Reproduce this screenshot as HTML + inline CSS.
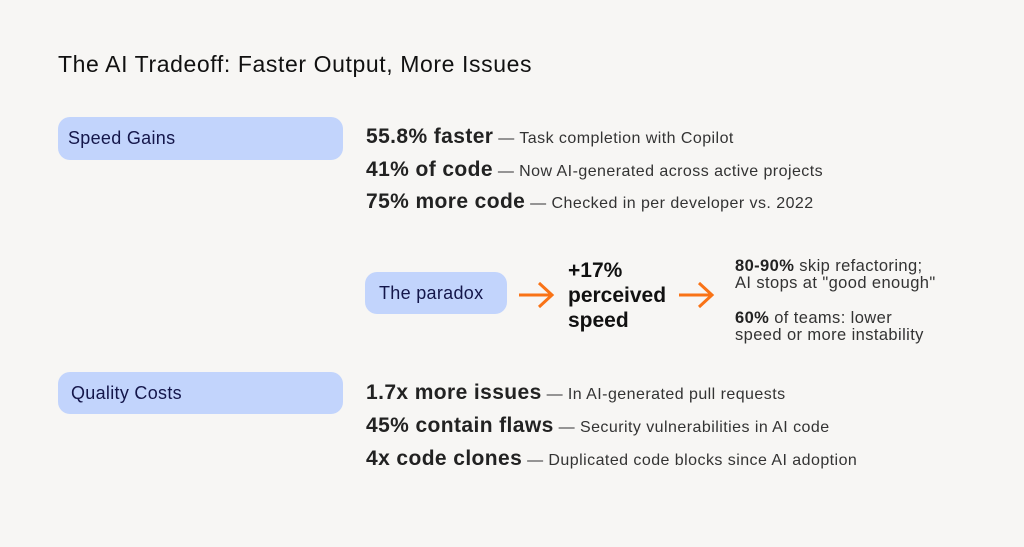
<!DOCTYPE html>
<html><head><meta charset="utf-8"><style>
body{margin:0;width:1024px;height:547px;background:#f7f6f4;font-family:"Liberation Sans",sans-serif;position:relative;overflow:hidden;color:#222}
.a{position:absolute;white-space:nowrap}
.pill{position:absolute;background:#c2d4fc;border-radius:12px;color:#14164a;font-size:18px;letter-spacing:0.3px;line-height:42px;box-sizing:border-box}
.ln{position:absolute;left:366px;white-space:nowrap;font-size:16px;letter-spacing:0.45px;color:#333;line-height:24px}
.ln b{font-size:21px;letter-spacing:0.4px;color:#222}
.sm{font-size:16.5px;letter-spacing:0.4px;color:#333;line-height:17px}
.sm b{color:#222}
</style></head><body>
<div class="a" style="left:58px;top:51px;font-size:23px;letter-spacing:0.6px;color:#111">The AI Tradeoff: Faster Output, More Issues</div>
<div class="pill" style="left:58px;top:117px;width:285px;height:43px;padding-left:10px">Speed Gains</div>
<div class="ln" style="top:125px"><b>55.8% faster</b> — Task completion with Copilot</div>
<div class="ln" style="top:158px"><b>41% of code</b> — Now AI-generated across active projects</div>
<div class="ln" style="top:190px"><b>75% more code</b> — Checked in per developer vs. 2022</div>
<div class="pill" style="left:365px;top:272px;width:142px;height:42px;padding-left:14px">The paradox</div>
<svg class="a" style="left:515px;top:280px" width="210" height="32">
<path d="M4 15H37M24 3L37 15L24 27" stroke="#f97316" stroke-width="3" fill="none"/>
<path d="M164 15H197M184 3L197 15L184 27" stroke="#f97316" stroke-width="3" fill="none"/>
</svg>
<div class="a" style="left:568px;top:258px;font-size:21px;font-weight:bold;line-height:25px;color:#111">+17%<br>perceived<br>speed</div>
<div class="a sm" style="left:735px;top:258px"><b>80-90%</b> skip refactoring;<br>AI stops at "good enough"</div>
<div class="a sm" style="left:735px;top:310px"><b>60%</b> of teams: lower<br>speed or more instability</div>
<div class="pill" style="left:58px;top:372px;width:285px;height:42px;padding-left:13px">Quality Costs</div>
<div class="ln" style="top:381px"><b>1.7x more issues</b> — In AI-generated pull requests</div>
<div class="ln" style="top:414px"><b>45% contain flaws</b> — Security vulnerabilities in AI code</div>
<div class="ln" style="top:447px"><b>4x code clones</b> — Duplicated code blocks since AI adoption</div>
</body></html>
